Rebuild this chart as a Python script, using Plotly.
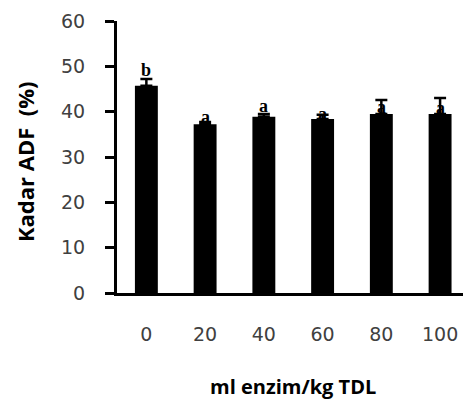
import plotly.graph_objects as go

categories = ["0", "20", "40", "60", "80", "100"]
values = [45.7, 37.2, 38.9, 38.4, 39.5, 39.5]
errors = [1.5, 0.5, 0.6, 0.9, 3.1, 3.5]
letters = ["b", "a", "a", "a", "a", "a"]
letter_y = [49.2, 38.9, 41.2, 39.5, 41.0, 40.8]

fig = go.Figure()
fig.add_trace(go.Bar(
    x=categories, y=values, width=0.39,
    marker=dict(color="black", line=dict(width=0)),
    error_y=dict(type="data", symmetric=False, array=errors,
                 arrayminus=[0] * len(errors), color="black",
                 thickness=2.5, width=6),
))

for i, (t, yy) in enumerate(zip(letters, letter_y)):
    fig.add_annotation(x=i, y=yy, text=t, showarrow=False,
                       font=dict(family="Liberation Serif", size=18, color="black",
                                 weight="bold"),
                       yanchor="middle", xanchor="center")

fig.add_annotation(xref="paper", yref="paper", x=-0.266, y=0.485,
                   text="Kadar ADF  (%)", textangle=-90, showarrow=False,
                   xanchor="center", yanchor="middle",
                   font=dict(family="Open Sans", size=22, color="black", weight="bold"))
fig.add_annotation(xref="paper", yref="paper", x=0.509, y=-0.343,
                   text="ml enzim/kg TDL", showarrow=False,
                   xanchor="center", yanchor="middle",
                   font=dict(family="Open Sans", size=20, color="black", weight="bold"))

fig.update_layout(
    width=463, height=399,
    margin=dict(l=117, r=0, t=21, b=106),
    paper_bgcolor="white", plot_bgcolor="white",
    showlegend=False,
    xaxis=dict(
        type="category", range=[-0.5, 5.39], automargin=False,
        showline=True, linecolor="black", linewidth=3,
        ticks="", showgrid=False, zeroline=False,
        tickfont=dict(family="DejaVu Sans", size=19, color="#404040"),
        ticklabelstandoff=22,
    ),
    yaxis=dict(
        range=[0, 60], tickvals=[0, 10, 20, 30, 40, 50, 60], automargin=False,
        showline=True, linecolor="black", linewidth=3,
        ticks="outside", ticklen=9, tickwidth=3, tickcolor="black",
        showgrid=False, zeroline=False,
        tickfont=dict(family="DejaVu Sans", size=19, color="#404040"),
        ticklabelstandoff=16,
    ),
)

fig.write_html("out.html", config={"displayModeBar": False},
               post_script="document.body.style.margin='0';")
